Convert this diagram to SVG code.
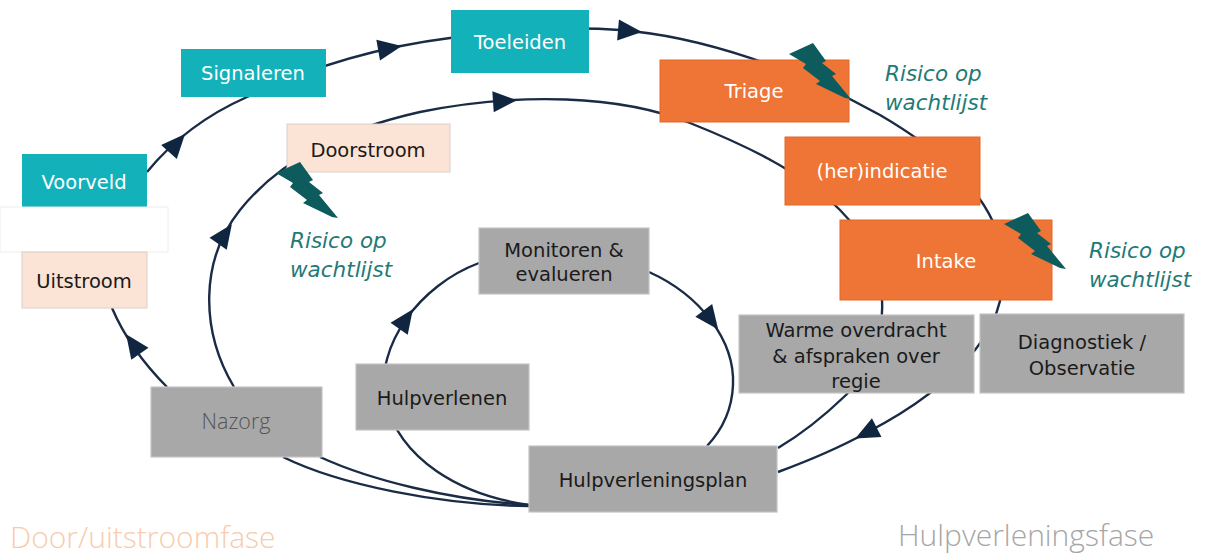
<svg xmlns="http://www.w3.org/2000/svg" xmlns:xlink="http://www.w3.org/1999/xlink" width="1212" height="556" viewBox="0 0 1212 556">
<style>
.lbl{font-family:"DejaVu Sans","Liberation Sans",sans-serif;font-size:19.5px;text-anchor:middle}
.w{fill:#ffffff}
.d{fill:#1a1a1a}
.teal{fill:#13b1b9}
.orange{fill:#ee7535;stroke:#e2692a;stroke-width:1}
.gray{fill:#a8a8a8;stroke:#c4c4c4;stroke-width:1.2}
.peach{fill:#fbe3d5;stroke:#d9d0cb;stroke-width:1}
.risk{font-family:"DejaVu Sans","Liberation Sans",sans-serif;font-size:21.5px;font-style:italic;font-weight:300;fill:#1f7a78}
.line{fill:none;stroke:#1a2b45;stroke-width:2.4}
.phase{font-family:"Open Sans","Liberation Sans",sans-serif;font-size:30px;font-weight:300}
</style>
<defs>
<path id="ah" d="M12,0 L-12,-10.5 L-12,10.5 Z" fill="#0f2540"/>
<polygon id="bolt" points="0,11 24,0 37,18 33,20 47,31 43,33 62,56 56,55 27,41 31,38 14,25 17,21" fill="#0d5b5c"/>
</defs>
<rect width="1212" height="556" fill="#ffffff"/>
<g id="connectors">
<path class="line" d="M147,172 C165,150 195,120 247,97 C300,72 370,48 450,38 C500,31 560,26 620,30 C700,36 800,70 880,115 C940,150 985,190 1000,240 C1010,280 1000,320 975,350 C955,375 920,405 866,433 C835,450 805,462 778,472"/>
<path class="line" d="M234,387 C200,330 200,260 240,210 C280,160 340,130 420,112 C520,92 620,95 690,123 C740,143 800,170 840,210 C865,235 880,265 882,300 C884,340 870,370 846,395 C820,420 800,435 778,448"/>
<path class="line" d="M167,387 Q130,350 112,308"/>
<path class="line" d="M283,457 C340,485 440,505 529,506"/>
<path class="line" d="M320,457 C370,480 450,500 529,505"/>
<path class="line" d="M529,505 C460,495 400,460 385,400 C375,345 420,285 479,263"/>
<path class="line" d="M649,272 C700,295 735,340 733,385 C732,410 722,430 707,446"/>
<use xlink:href="#ah" href="#ah" transform="translate(177,143) rotate(-48)"/>
<use xlink:href="#ah" href="#ah" transform="translate(390,48) rotate(-10)"/>
<use xlink:href="#ah" href="#ah" transform="translate(630,31) rotate(5)"/>
<use xlink:href="#ah" href="#ah" transform="translate(866,433) rotate(153)"/>
<use xlink:href="#ah" href="#ah" transform="translate(133,344) rotate(235)"/>
<use xlink:href="#ah" href="#ah" transform="translate(225,234) rotate(-55)"/>
<use xlink:href="#ah" href="#ah" transform="translate(505,101) rotate(-4)"/>
<use xlink:href="#ah" href="#ah" transform="translate(406,319) rotate(-55)"/>
<use xlink:href="#ah" href="#ah" transform="translate(711,320) rotate(53)"/>
</g>
<g id="toeleiden"><rect class="teal" x="451" y="10" width="138" height="63"/><text class="lbl w" x="520" y="49">Toeleiden</text></g>
<g id="signaleren"><rect class="teal" x="181" y="49" width="145" height="48"/><text class="lbl w" x="253" y="80">Signaleren</text></g>
<g id="voorveld"><rect class="teal" x="22" y="154" width="125" height="53"/><text class="lbl w" x="84" y="189">Voorveld</text></g>
<g id="blank"><rect x="0" y="207" width="168" height="45" fill="#ffffff" stroke="#eeeeee" stroke-width="1"/></g>
<g id="uitstroom"><rect class="peach" x="22" y="252" width="125" height="56"/><text class="lbl d" x="84" y="288">Uitstroom</text></g>
<g id="doorstroom"><rect class="peach" x="287" y="124" width="163" height="48"/><text class="lbl d" x="368" y="157">Doorstroom</text></g>
<g id="triage"><rect class="orange" x="660" y="60" width="189" height="62"/><text class="lbl w" x="754" y="98">Triage</text></g>
<g id="herindicatie"><rect class="orange" x="785" y="137" width="195" height="68"/><text class="lbl w" x="882" y="178">(her)indicatie</text></g>
<g id="intake"><rect class="orange" x="840" y="220" width="212" height="80"/><text class="lbl w" x="946" y="268">Intake</text></g>
<g id="warme"><rect class="gray" x="739" y="315" width="235" height="78"/><text class="lbl d" x="856" y="337">Warme overdracht</text><text class="lbl d" x="856" y="363">&amp; afspraken over</text><text class="lbl d" x="856" y="388">regie</text></g>
<g id="diagnostiek"><rect class="gray" x="980" y="314" width="204" height="79"/><text class="lbl d" x="1082" y="349">Diagnostiek /</text><text class="lbl d" x="1082" y="375">Observatie</text></g>
<g id="monitoren"><rect class="gray" x="479" y="228" width="170" height="66"/><text class="lbl d" x="564" y="257">Monitoren &amp;</text><text class="lbl d" x="564" y="281">evalueren</text></g>
<g id="hulpverlenen"><rect class="gray" x="356" y="364" width="173" height="66"/><text class="lbl d" x="442" y="405">Hulpverlenen</text></g>
<g id="nazorg"><rect class="gray" x="151" y="387" width="171" height="70"/><text x="236" y="429" font-family="Open Sans, Liberation Sans, sans-serif" font-size="21.5" font-weight="300" fill="#555555" text-anchor="middle">Nazorg</text></g>
<g id="hulpverleningsplan"><rect class="gray" x="529" y="446" width="248" height="66"/><text class="lbl d" x="653" y="487">Hulpverleningsplan</text></g>
<g id="risks">
<use xlink:href="#bolt" href="#bolt" transform="translate(789,43)"/>
<use xlink:href="#bolt" href="#bolt" transform="translate(276,162)"/>
<use xlink:href="#bolt" href="#bolt" transform="translate(1004,213)"/>
<text class="risk" x="885" y="81">Risico op</text><text class="risk" x="885" y="110">wachtlijst</text>
<text class="risk" x="290" y="248">Risico op</text><text class="risk" x="290" y="277">wachtlijst</text>
<text class="risk" x="1089" y="258">Risico op</text><text class="risk" x="1089" y="287">wachtlijst</text>
</g>
<g id="phases">
<text class="phase" x="10" y="548" fill="#f8cbad">Door/uitstroomfase</text>
<text class="phase" x="898" y="546" fill="#a6a6a6">Hulpverleningsfase</text>
</g>
</svg>
